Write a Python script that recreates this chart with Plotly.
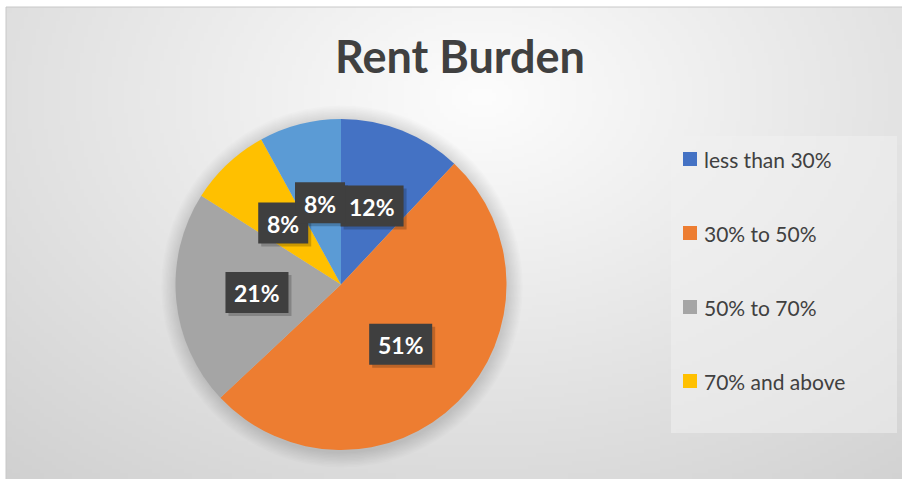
import base64
import math
import struct
import zlib

import numpy as np
import plotly.graph_objects as go

# data
categories = ["less than 30%", "30% to 50%", "50% to 70%", "70% and above", ""]
values = [12, 51, 21, 8, 8]
colors = ["#4472C4", "#ED7D31", "#A5A5A5", "#FFC000", "#5B9BD5"]
legend_items = categories[:4]

W, H = 902, 479
FONT = "Lato"

# pie geometry in pixels
cx, cy, R = 341, 284.5, 165.5


def px(x):
    return x / W


def py(y):
    return 1 - y / H


def png_uri(arr):
    """tiny png writer so the background gradient can be a layout image"""
    h, w, _ = arr.shape
    raw = b"".join(b"\x00" + arr[i].tobytes() for i in range(h))

    def chunk(tag, data):
        c = struct.pack(">I", len(data)) + tag + data
        return c + struct.pack(">I", zlib.crc32(tag + data) & 0xffffffff)

    png = b"\x89PNG\r\n\x1a\n"
    png += chunk(b"IHDR", struct.pack(">IIBBBBB", w, h, 8, 2, 0, 0, 0))
    png += chunk(b"IDAT", zlib.compress(raw, 9))
    png += chunk(b"IEND", b"")
    return "data:image/png;base64," + base64.b64encode(png).decode()


# radial gradient background (white near title, grey to the edges)
gw, gh = 224, 118
yy, xx = np.mgrid[0:gh, 0:gw]
dx = (xx * 4 + 6 - 480) / 620
dy = (yy * 4 + 7 - 95) / 430
d = np.sqrt(dx ** 2 + dy ** 2)
shade = np.clip(253 - 38 * d, 208, 253).astype(np.uint8)
bg = np.stack([shade, shade, shade], axis=-1)

fig = go.Figure()

fig.add_trace(go.Pie(
    labels=[c if c else " " for c in categories],
    values=values,
    marker=dict(colors=colors, line=dict(width=0)),
    sort=False,
    direction="clockwise",
    rotation=0,
    textinfo="none",
    hoverinfo="label+percent",
    showlegend=False,
    domain=dict(x=[px(cx - R), px(cx + R)], y=[py(cy + R), py(cy - R)]),
))

shapes = []
# chart frame
shapes.append(dict(type="rect", xref="paper", yref="paper",
                   x0=px(6), x1=1.01, y0=-0.01, y1=py(7),
                   line=dict(color="#c8c8c8", width=1), fillcolor="rgba(0,0,0,0)",
                   layer="below"))
# soft shadow round the pie
for k in range(1, 12):
    r = R + k * 1.4
    shapes.append(dict(type="circle", xref="paper", yref="paper",
                       x0=px(cx + 1 - r), x1=px(cx + 1 + r),
                       y0=py(cy + 2 + r), y1=py(cy + 2 - r),
                       line=dict(width=0), fillcolor="rgba(0,0,0,0.012)",
                       layer="below"))

# legend box
shapes.append(dict(type="rect", xref="paper", yref="paper",
                   x0=px(671), x1=px(897), y0=py(433), y1=py(136),
                   line=dict(width=0), fillcolor="rgba(240,240,240,0.55)",
                   layer="below"))

annotations = [dict(
    text="<b>Rent Burden</b>", x=px(460), y=py(56), xref="paper", yref="paper",
    xanchor="center", yanchor="middle", showarrow=False,
    font=dict(family=FONT, size=45, color="#404040"),
)]

for i, name in enumerate(legend_items):
    yc = 159 + i * 74
    shapes.append(dict(type="rect", xref="paper", yref="paper",
                       x0=px(683), x1=px(697), y0=py(yc + 7), y1=py(yc - 7),
                       line=dict(width=0), fillcolor=colors[i]))
    annotations.append(dict(
        text=name, x=px(702), y=py(yc), xref="paper", yref="paper",
        xanchor="left", yanchor="middle", showarrow=False,
        font=dict(family=FONT, size=21, color="#404040"),
    ))

# data labels in dark boxes, placed along each slice's middle angle
total = sum(values)
start = 0.0
labels = []
for v in values:
    mid = (start + v / 2) / total * 2 * math.pi
    start += v
    lx = cx + 0.51 * R * math.sin(mid)
    ly = cy - 0.51 * R * math.cos(mid)
    labels.append((lx, ly, f"{round(v / total * 100)}%"))

# shadows first, then the boxes on top (all as shapes above the pie)
for shadow in (True, False):
    off = 3 if shadow else 0
    for lx, ly, txt in labels:
        bw, bh = 13 * len(txt) + 24, 41
        shapes.append(dict(
            type="rect", xref="paper", yref="paper", layer="above",
            x0=px(lx - bw / 2 + off), x1=px(lx + bw / 2 + off),
            y0=py(ly + bh / 2 + off), y1=py(ly - bh / 2 + off),
            line=dict(width=0),
            fillcolor="rgba(0,0,0,0.2)" if shadow else "#3f3f3f",
        ))

for lx, ly, txt in labels:
    annotations.append(dict(
        text=f"<b>{txt}</b>", x=px(lx), y=py(ly + 1), xref="paper", yref="paper",
        xanchor="center", yanchor="middle", showarrow=False,
        font=dict(family=FONT, size=23, color="white"),
    ))

fig.update_layout(
    width=W, height=H,
    margin=dict(l=0, r=0, t=0, b=0),
    paper_bgcolor="white",
    shapes=shapes,
    annotations=annotations,
    images=[dict(source=png_uri(bg), xref="paper", yref="paper",
                 x=px(6), y=py(7), sizex=1 - px(6), sizey=py(7),
                 xanchor="left", yanchor="top", sizing="stretch", layer="below")],
)

# page margin off so the figure sits at the window's top-left corner
fig.write_html("out.html", config={"displayModeBar": False},
               post_script="document.body.style.margin='0';")
